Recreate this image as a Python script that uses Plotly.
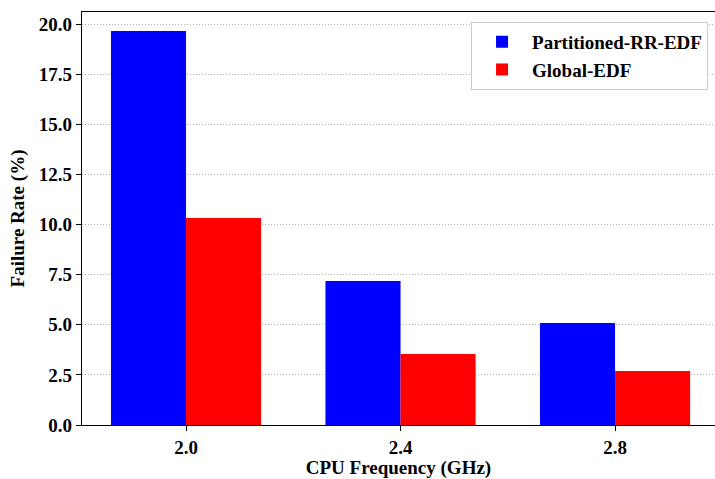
import plotly.graph_objects as go

categories = ["2.0", "2.4", "2.8"]
partitioned_rr_edf = [19.65, 7.18, 5.09]
global_edf = [10.32, 3.54, 2.69]
y_ticks = [0.0, 2.5, 5.0, 7.5, 10.0, 12.5, 15.0, 17.5, 20.0]

xpos = list(range(len(categories)))
W = 0.35
FONT = "Liberation Serif"
FS = 19

fig = go.Figure()
fig.add_trace(go.Bar(x=xpos, y=partitioned_rr_edf, name="Partitioned-RR-EDF",
                     width=W, offset=-W, marker=dict(color="#0000ff", line=dict(width=0))))
fig.add_trace(go.Bar(x=xpos, y=global_edf, name="Global-EDF",
                     width=W, offset=0, marker=dict(color="#ff0000", line=dict(width=0))))

fig.update_layout(
    width=715, height=479,
    margin=dict(l=82, r=0, t=12, b=54),
    plot_bgcolor="white", paper_bgcolor="white",
    barmode="overlay",
    font=dict(family=FONT, size=FS, color="black"),
    legend=dict(x=0.989, y=0.976, xanchor="right", yanchor="top",
                bgcolor="white", bordercolor="#cccccc", borderwidth=1,
                font=dict(family=FONT, size=FS, color="black", weight="bold"),
                itemwidth=50, tracegroupgap=0),
    xaxis=dict(
        range=[-0.485, 2.466],
        tickmode="array", tickvals=xpos, ticktext=[f"<b>{c}</b>" for c in categories],
        showline=True, linecolor="black", linewidth=1.2, mirror=True,
        ticks="outside", ticklen=5, tickcolor="black", tickwidth=1.2,
        showgrid=False, zeroline=False,
        title=dict(text="<b>CPU Frequency (GHz)</b>", standoff=5,
                   font=dict(family=FONT, size=FS)),
        tickfont=dict(family=FONT, size=FS),
    ),
    yaxis=dict(
        range=[0, 20.6],
        tickmode="array", tickvals=y_ticks, ticktext=[f"<b>{v:.1f}</b>" for v in y_ticks],
        showline=True, linecolor="black", linewidth=1.2, mirror=False,
        ticks="outside", ticklen=5, tickcolor="black", tickwidth=1.2,
        showgrid=True, gridcolor="#b0b0b0", griddash="1px,2px", gridwidth=1,
        zeroline=False,
        title=dict(text="<b>Failure Rate (%)</b>", standoff=9,
                   font=dict(family=FONT, size=FS)),
        tickfont=dict(family=FONT, size=FS),
    ),
)
fig.write_html("out.html")
